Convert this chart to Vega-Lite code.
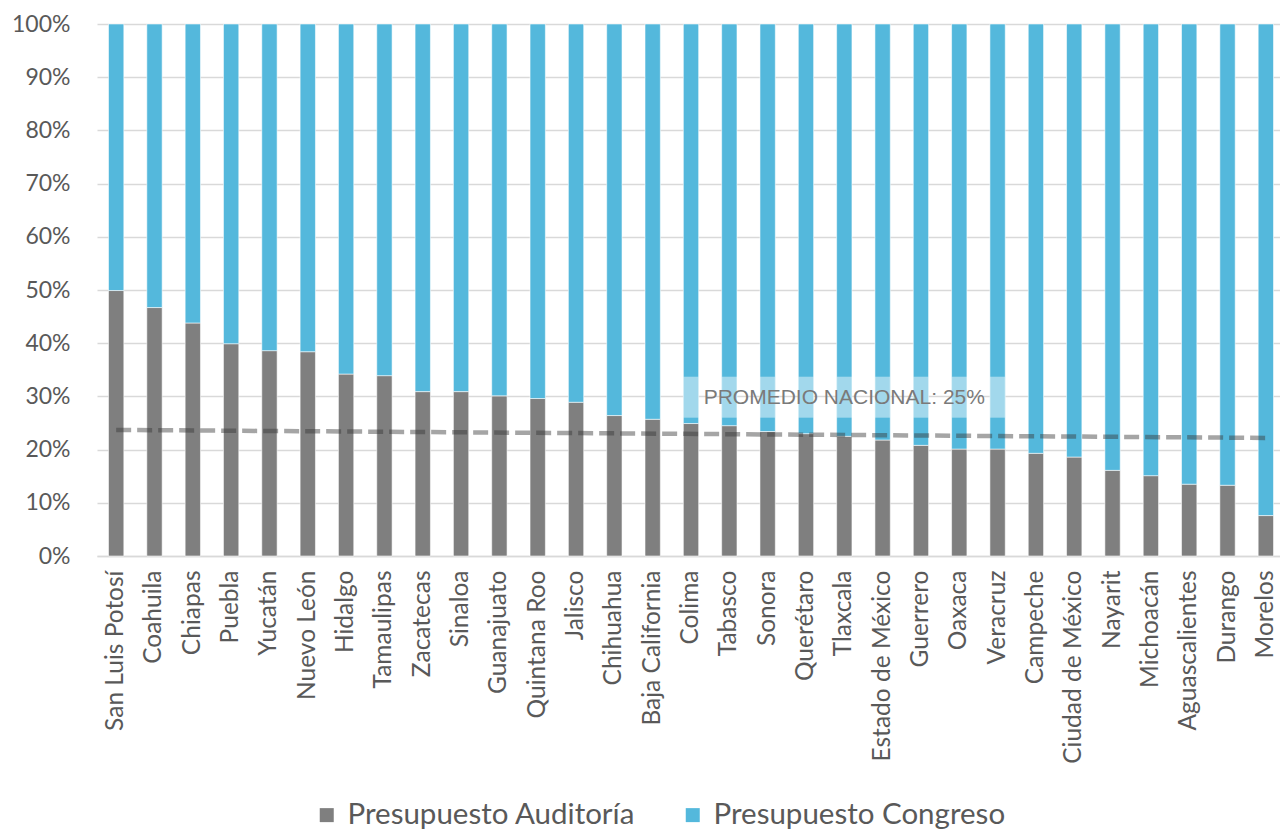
{
  "$schema": "https://vega.github.io/schema/vega-lite/v6.json",
  "width": 1183,
  "height": 532,
  "autosize": {"type": "none"},
  "padding": {"left": 97, "top": 24, "right": 0, "bottom": 275},
  "background": "white",
  "config": {"view": {"stroke": null}, "font": "Lato"},
  "datasets": {
    "presupuesto": [
      {"estado": "San Luis Potosí", "serie": "Presupuesto Auditoría", "valor": 49.9},
      {"estado": "San Luis Potosí", "serie": "Presupuesto Congreso", "valor": 50.1},
      {"estado": "Coahuila", "serie": "Presupuesto Auditoría", "valor": 46.7},
      {"estado": "Coahuila", "serie": "Presupuesto Congreso", "valor": 53.3},
      {"estado": "Chiapas", "serie": "Presupuesto Auditoría", "valor": 43.8},
      {"estado": "Chiapas", "serie": "Presupuesto Congreso", "valor": 56.2},
      {"estado": "Puebla", "serie": "Presupuesto Auditoría", "valor": 39.9},
      {"estado": "Puebla", "serie": "Presupuesto Congreso", "valor": 60.1},
      {"estado": "Yucatán", "serie": "Presupuesto Auditoría", "valor": 38.6},
      {"estado": "Yucatán", "serie": "Presupuesto Congreso", "valor": 61.4},
      {"estado": "Nuevo León", "serie": "Presupuesto Auditoría", "valor": 38.4},
      {"estado": "Nuevo León", "serie": "Presupuesto Congreso", "valor": 61.6},
      {"estado": "Hidalgo", "serie": "Presupuesto Auditoría", "valor": 34.2},
      {"estado": "Hidalgo", "serie": "Presupuesto Congreso", "valor": 65.8},
      {"estado": "Tamaulipas", "serie": "Presupuesto Auditoría", "valor": 33.9},
      {"estado": "Tamaulipas", "serie": "Presupuesto Congreso", "valor": 66.1},
      {"estado": "Zacatecas", "serie": "Presupuesto Auditoría", "valor": 30.9},
      {"estado": "Zacatecas", "serie": "Presupuesto Congreso", "valor": 69.1},
      {"estado": "Sinaloa", "serie": "Presupuesto Auditoría", "valor": 30.9},
      {"estado": "Sinaloa", "serie": "Presupuesto Congreso", "valor": 69.1},
      {"estado": "Guanajuato", "serie": "Presupuesto Auditoría", "valor": 30.1},
      {"estado": "Guanajuato", "serie": "Presupuesto Congreso", "valor": 69.9},
      {"estado": "Quintana Roo", "serie": "Presupuesto Auditoría", "valor": 29.6},
      {"estado": "Quintana Roo", "serie": "Presupuesto Congreso", "valor": 70.4},
      {"estado": "Jalisco", "serie": "Presupuesto Auditoría", "valor": 28.9},
      {"estado": "Jalisco", "serie": "Presupuesto Congreso", "valor": 71.1},
      {"estado": "Chihuahua", "serie": "Presupuesto Auditoría", "valor": 26.4},
      {"estado": "Chihuahua", "serie": "Presupuesto Congreso", "valor": 73.6},
      {"estado": "Baja California", "serie": "Presupuesto Auditoría", "valor": 25.7},
      {"estado": "Baja California", "serie": "Presupuesto Congreso", "valor": 74.3},
      {"estado": "Colima", "serie": "Presupuesto Auditoría", "valor": 24.9},
      {"estado": "Colima", "serie": "Presupuesto Congreso", "valor": 75.1},
      {"estado": "Tabasco", "serie": "Presupuesto Auditoría", "valor": 24.5},
      {"estado": "Tabasco", "serie": "Presupuesto Congreso", "valor": 75.5},
      {"estado": "Sonora", "serie": "Presupuesto Auditoría", "valor": 23.4},
      {"estado": "Sonora", "serie": "Presupuesto Congreso", "valor": 76.6},
      {"estado": "Querétaro", "serie": "Presupuesto Auditoría", "valor": 23.0},
      {"estado": "Querétaro", "serie": "Presupuesto Congreso", "valor": 77.0},
      {"estado": "Tlaxcala", "serie": "Presupuesto Auditoría", "valor": 22.5},
      {"estado": "Tlaxcala", "serie": "Presupuesto Congreso", "valor": 77.5},
      {"estado": "Estado de México", "serie": "Presupuesto Auditoría", "valor": 21.8},
      {"estado": "Estado de México", "serie": "Presupuesto Congreso", "valor": 78.2},
      {"estado": "Guerrero", "serie": "Presupuesto Auditoría", "valor": 20.8},
      {"estado": "Guerrero", "serie": "Presupuesto Congreso", "valor": 79.2},
      {"estado": "Oaxaca", "serie": "Presupuesto Auditoría", "valor": 20.1},
      {"estado": "Oaxaca", "serie": "Presupuesto Congreso", "valor": 79.9},
      {"estado": "Veracruz", "serie": "Presupuesto Auditoría", "valor": 20.1},
      {"estado": "Veracruz", "serie": "Presupuesto Congreso", "valor": 79.9},
      {"estado": "Campeche", "serie": "Presupuesto Auditoría", "valor": 19.3},
      {"estado": "Campeche", "serie": "Presupuesto Congreso", "valor": 80.7},
      {"estado": "Ciudad de México", "serie": "Presupuesto Auditoría", "valor": 18.6},
      {"estado": "Ciudad de México", "serie": "Presupuesto Congreso", "valor": 81.4},
      {"estado": "Nayarit", "serie": "Presupuesto Auditoría", "valor": 16.1},
      {"estado": "Nayarit", "serie": "Presupuesto Congreso", "valor": 83.9},
      {"estado": "Michoacán", "serie": "Presupuesto Auditoría", "valor": 15.1},
      {"estado": "Michoacán", "serie": "Presupuesto Congreso", "valor": 84.9},
      {"estado": "Aguascalientes", "serie": "Presupuesto Auditoría", "valor": 13.5},
      {"estado": "Aguascalientes", "serie": "Presupuesto Congreso", "valor": 86.5},
      {"estado": "Durango", "serie": "Presupuesto Auditoría", "valor": 13.3},
      {"estado": "Durango", "serie": "Presupuesto Congreso", "valor": 86.7},
      {"estado": "Morelos", "serie": "Presupuesto Auditoría", "valor": 7.6},
      {"estado": "Morelos", "serie": "Presupuesto Congreso", "valor": 92.4}
    ],
    "tendencia": [
      {"estado": "San Luis Potosí", "promedio": 0.237},
      {"estado": "Morelos", "promedio": 0.222}
    ],
    "recuadro": [
      {"estado": "Colima", "desde": 0.26, "hasta": 0.337},
      {"estado": "Tabasco", "desde": 0.26, "hasta": 0.337},
      {"estado": "Sonora", "desde": 0.26, "hasta": 0.337},
      {"estado": "Querétaro", "desde": 0.26, "hasta": 0.337},
      {"estado": "Tlaxcala", "desde": 0.26, "hasta": 0.337},
      {"estado": "Estado de México", "desde": 0.26, "hasta": 0.337},
      {"estado": "Guerrero", "desde": 0.26, "hasta": 0.337},
      {"estado": "Oaxaca", "desde": 0.26, "hasta": 0.337},
      {"estado": "Veracruz", "desde": 0.26, "hasta": 0.337}
    ],
    "etiqueta": [
      {"estado": "Tlaxcala", "y": 0.297, "texto": "PROMEDIO NACIONAL: 25%"}
    ]
  },
  "layer": [
    {
      "data": {"name": "presupuesto"},
      "mark": {"type": "bar", "stroke": "#ffffff", "strokeWidth": 0.8, "strokeOpacity": 0.7},
      "encoding": {
        "x": {
          "field": "estado", "type": "nominal", "sort": null,
          "scale": {"paddingInner": 0.6, "paddingOuter": 0.3, "range": [0, 1188]},
          "axis": {
            "title": null, "labelAngle": 270, "ticks": false,
            "domainColor": "#d9d9d9", "domainWidth": 1.5,
            "labelFont": "Lato", "labelFontSize": 24.5, "labelColor": "#595959",
            "labelPadding": 14, "labelLimit": 300
          }
        },
        "y": {
          "field": "valor", "type": "quantitative", "stack": "normalize",
          "scale": {"domain": [0, 1]},
          "axis": {
            "title": null, "format": ".0%", "values": [0, 0.1, 0.2, 0.3, 0.4, 0.5, 0.6, 0.7, 0.8, 0.9, 1],
            "domain": false, "ticks": false, "gridColor": "#d9d9d9", "gridWidth": 1.5,
            "labelFont": "Lato", "labelFontSize": 23, "labelColor": "#595959", "labelPadding": 27
          }
        },
        "color": {
          "field": "serie", "type": "nominal",
          "scale": {"domain": ["Presupuesto Auditoría", "Presupuesto Congreso"], "range": ["#7f7f7f", "#54b8dc"]},
          "legend": {
            "title": null, "orient": "none", "direction": "horizontal",
            "legendX": 215, "legendY": 776,
            "symbolType": "square", "symbolSize": 196, "symbolStrokeWidth": 0,
            "labelFont": "Lato", "labelFontSize": 29.5, "labelColor": "#595959",
            "labelOffset": 6, "columnPadding": 42, "labelLimit": 400
          }
        },
        "order": {"field": "serie", "sort": "ascending"}
      }
    },
    {
      "data": {"name": "tendencia"},
      "mark": {"type": "line", "color": "#373737", "opacity": 0.45, "strokeWidth": 4.5, "strokeDash": [15, 6]},
      "encoding": {
        "x": {"field": "estado", "type": "nominal", "sort": null},
        "y": {"field": "promedio", "type": "quantitative"}
      }
    },
    {
      "data": {"name": "recuadro"},
      "mark": {"type": "bar", "color": "#ffffff", "opacity": 0.46},
      "encoding": {
        "x": {"field": "estado", "type": "nominal", "sort": null},
        "y": {"field": "desde", "type": "quantitative"},
        "y2": {"field": "hasta"}
      }
    },
    {
      "data": {"name": "etiqueta"},
      "mark": {"type": "text", "font": "Liberation Sans", "fontSize": 21, "color": "#7a7a7a", "align": "center", "baseline": "middle"},
      "encoding": {
        "x": {"field": "estado", "type": "nominal", "sort": null},
        "y": {"field": "y", "type": "quantitative"},
        "text": {"field": "texto"}
      }
    }
  ]
}
